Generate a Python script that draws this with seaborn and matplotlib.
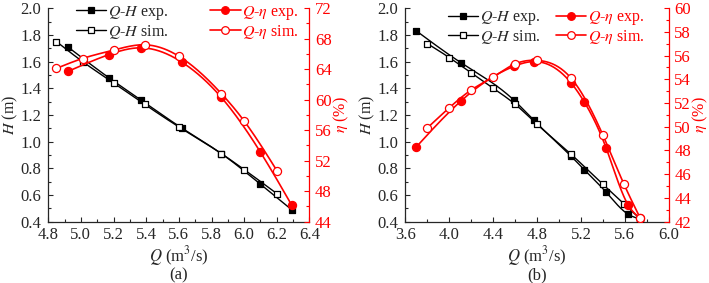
import numpy as np
import pandas as pd
import matplotlib
matplotlib.use("Agg")
import matplotlib.pyplot as plt
from matplotlib.lines import Line2D
from matplotlib.ticker import MultipleLocator
import seaborn as sns

# ---------------- data: panel (a) ----------------
a_q_exp = [4.92, 5.17, 5.37, 5.62, 5.86, 6.10, 6.29]
a_h_exp = [1.71, 1.48, 1.31, 1.10, 0.91, 0.68, 0.49]
a_eta_exp = [63.7, 65.9, 66.8, 64.9, 60.3, 53.1, 46.2]
a_q_sim = [4.85, 5.01, 5.20, 5.39, 5.60, 5.86, 6.00, 6.20]
a_h_sim = [1.75, 1.60, 1.44, 1.28, 1.11, 0.91, 0.79, 0.61]
a_eta_sim = [64.1, 65.4, 66.5, 67.2, 65.7, 60.8, 57.2, 50.7]

# ---------------- data: panel (b) ----------------
b_q_exp = [3.70, 4.11, 4.59, 4.77, 5.11, 5.23, 5.43, 5.63, 5.74]
b_h_exp = [1.83, 1.59, 1.31, 1.16, 0.89, 0.79, 0.62, 0.455, 0.42]
b_eta_exp = [48.3, 52.2, 55.1, 55.5, 53.7, 52.1, 48.2, 43.4, 42.3]
b_q_sim = [3.80, 4.00, 4.20, 4.40, 4.60, 4.80, 5.11, 5.40, 5.59, 5.74]
b_h_sim = [1.735, 1.63, 1.515, 1.40, 1.28, 1.13, 0.905, 0.68, 0.535, 0.42]
b_eta_sim = [49.9, 51.6, 53.1, 54.2, 55.3, 55.6, 54.1, 49.3, 45.2, 42.3]

legend_labels_h = ["$Q$-$H$ exp.", "$Q$-$H$ sim."]
legend_labels_eta = ["$Q$-$\\eta$ exp.", "$Q$-$\\eta$ sim."]
x_label = "$Q$ (m$^3$/s)"
h_label = "$H$ (m)"
eta_label = "$\\eta$ (%)"
panel_labels = ["(a)", "(b)"]

sns.set_style("ticks")
plt.rcParams["font.family"] = ["Liberation Serif", "DejaVu Serif"]
plt.rcParams["mathtext.fontset"] = "stix"
plt.rcParams["font.size"] = 12

RED = "#ff0000"
FS = 12
LFS = 11.5


def spline(x, y, n=300):
    x = np.asarray(x, float)
    y = np.asarray(y, float)
    m = len(x)
    h = np.diff(x)
    A = np.zeros((m, m))
    r = np.zeros(m)
    A[0, 0] = A[-1, -1] = 1.0
    for i in range(1, m - 1):
        A[i, i - 1] = h[i - 1]
        A[i, i] = 2 * (h[i - 1] + h[i])
        A[i, i + 1] = h[i]
        r[i] = 3 * ((y[i + 1] - y[i]) / h[i] - (y[i] - y[i - 1]) / h[i - 1])
    c = np.linalg.solve(A, r)
    b = (y[1:] - y[:-1]) / h - h * (2 * c[:-1] + c[1:]) / 3
    d = (c[1:] - c[:-1]) / (3 * h)
    xs = np.linspace(x[0], x[-1], n)
    idx = np.clip(np.searchsorted(x, xs, side="right") - 1, 0, m - 2)
    dx = xs - x[idx]
    ys = y[idx] + b[idx] * dx + c[idx] * dx ** 2 + d[idx] * dx ** 3
    return pd.DataFrame({"x": xs, "y": ys})


def series(ax, q, v, color, marker, filled, lw, ms, z):
    df = spline(q, v)
    sns.lineplot(data=df, x="x", y="y", ax=ax, color=color, lw=lw,
                 sort=False, estimator=None, zorder=z)
    pts = pd.DataFrame({"x": q, "y": v})
    sns.scatterplot(data=pts, x="x", y="y", ax=ax, marker=marker, s=ms,
                    facecolor=color if filled else "white", edgecolor=color,
                    linewidth=0.9, zorder=z + 0.5)


fig = plt.figure(figsize=(7.09, 2.83), dpi=100)

panels = [
    dict(rect=[0.068, 0.217, 0.3685, 0.754], q_exp=a_q_exp, h_exp=a_h_exp,
         e_exp=a_eta_exp, q_sim=a_q_sim, h_sim=a_h_sim, e_sim=a_eta_sim,
         xlim=(4.8, 6.4), xmaj=0.2, xmin=0.1, elim=(44, 72), emaj=4, emin=2,
         lk=(0.105, 1.02), lr=(0.62, 1.02), label=panel_labels[0]),
    dict(rect=[0.5717, 0.217, 0.3715, 0.754], q_exp=b_q_exp, h_exp=b_h_exp,
         e_exp=b_eta_exp, q_sim=b_q_sim, h_sim=b_h_sim, e_sim=b_eta_sim,
         xlim=(3.6, 6.0), xmaj=0.4, xmin=0.2, elim=(42, 60), emaj=2, emin=1,
         lk=(0.161, 0.995), lr=(0.572, 0.995), label=panel_labels[1]),
]

for p in panels:
    ax = fig.add_axes(p["rect"])
    ax2 = ax.twinx()
    series(ax, p["q_exp"], p["h_exp"], "black", "s", True, 1.0, 24, 3)
    series(ax, p["q_sim"], p["h_sim"], "black", "s", False, 1.0, 24, 4)
    series(ax2, p["q_exp"], p["e_exp"], RED, "o", True, 1.2, 34, 3)
    series(ax2, p["q_sim"], p["e_sim"], RED, "o", False, 1.2, 34, 4)

    ax.set_xlim(*p["xlim"])
    ax.set_ylim(0.4, 2.0)
    ax2.set_ylim(*p["elim"])
    ax.xaxis.set_major_locator(MultipleLocator(p["xmaj"]))
    ax.xaxis.set_minor_locator(MultipleLocator(p["xmin"]))
    ax.yaxis.set_major_locator(MultipleLocator(0.2))
    ax.yaxis.set_minor_locator(MultipleLocator(0.1))
    ax2.yaxis.set_major_locator(MultipleLocator(p["emaj"]))
    ax2.yaxis.set_minor_locator(MultipleLocator(p["emin"]))
    ax.xaxis.set_major_formatter(plt.FuncFormatter(lambda v, _: f"{v:.1f}"))
    ax.yaxis.set_major_formatter(plt.FuncFormatter(lambda v, _: f"{v:.1f}"))
    ax2.yaxis.set_major_formatter(plt.FuncFormatter(lambda v, _: f"{v:.0f}"))

    for a in (ax, ax2):
        a.spines["top"].set_visible(False)
        for s in a.spines.values():
            s.set_linewidth(0.9)
    ax.spines["right"].set_visible(False)
    ax2.spines["left"].set_visible(False)
    ax2.spines["bottom"].set_visible(False)
    ax2.spines["right"].set_color(RED)

    ax.tick_params(axis="both", which="major", direction="in", length=3.5,
                   width=0.8, labelsize=FS, pad=5, top=False, right=False)
    ax.tick_params(axis="both", which="minor", direction="in", length=2,
                   width=0.8, top=False, right=False)
    ax.tick_params(axis="x", which="major", pad=4)
    ax2.tick_params(axis="y", which="major", direction="in", length=3.5,
                    width=0.8, labelsize=FS, pad=4, colors=RED)
    ax2.tick_params(axis="y", which="minor", direction="in", length=2,
                    width=0.8, colors=RED)

    ax.set_xlabel(x_label, fontsize=FS, labelpad=0.5)
    ax.set_ylabel(h_label, fontsize=11.5, labelpad=0)
    ax2.set_ylabel(eta_label, fontsize=11.5, color=RED, labelpad=0)
    ax.text(0.5, -0.25, p["label"], transform=ax.transAxes, ha="center",
            va="center", fontsize=FS)

    hk = [Line2D([0], [0], color="black", lw=1.0, marker="s", markersize=4.8,
                 markerfacecolor=fc, markeredgecolor="black", markeredgewidth=0.9)
          for fc in ("black", "white")]
    hr = [Line2D([0], [0], color=RED, lw=1.2, marker="o", markersize=5.5,
                 markerfacecolor=fc, markeredgecolor=RED, markeredgewidth=0.9)
          for fc in (RED, "white")]
    leg1 = ax.legend(hk, legend_labels_h, loc="upper left", bbox_to_anchor=p["lk"],
                     frameon=False, fontsize=LFS, handlelength=1.9,
                     handletextpad=0.1, borderpad=0, borderaxespad=0,
                     labelspacing=0.05)
    leg2 = ax2.legend(hr, legend_labels_eta, loc="upper left", bbox_to_anchor=p["lr"],
                      frameon=False, fontsize=LFS, handlelength=1.9,
                      handletextpad=0.1, borderpad=0, borderaxespad=0,
                      labelspacing=0.05)
    for t in leg2.get_texts():
        t.set_color(RED)

fig.savefig("out.png", dpi=100)
